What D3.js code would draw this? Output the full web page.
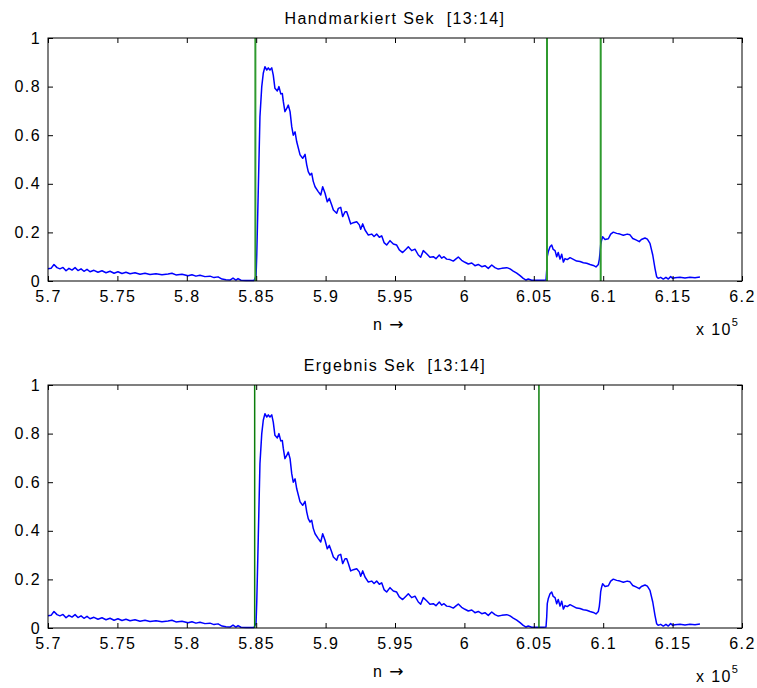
<!DOCTYPE html>
<html>
<head>
<meta charset="utf-8">
<script src="https://cdn.jsdelivr.net/npm/d3@7"></script>
<style>
  body { margin: 0; background: #fff; }
  svg text { font-family: "Liberation Sans", Arial, sans-serif; fill: #000; }
</style>
</head>
<body>
<svg id="chart"></svg>
<script>
// sample position n (x 10^5) and normalised envelope value
const sampleN = [
  5.7000, 5.7022, 5.7043, 5.7065, 5.7086, 5.7108, 5.7130, 5.7151, 5.7173, 5.7195,
  5.7216, 5.7238, 5.7259, 5.7281, 5.7303, 5.7331, 5.7360, 5.7389, 5.7418, 5.7447,
  5.7476, 5.7504, 5.7533, 5.7562, 5.7591, 5.7627, 5.7663, 5.7699, 5.7735, 5.7778,
  5.7821, 5.7865, 5.7893, 5.7922, 5.7965, 5.8009, 5.8037, 5.8066, 5.8095, 5.8131,
  5.8167, 5.8196, 5.8225, 5.8254, 5.8282, 5.8311, 5.8333, 5.8354, 5.8369, 5.8390,
  5.8427, 5.8455, 5.8484, 5.8499, 5.8504, 5.8515, 5.8527, 5.8540, 5.8551, 5.8563,
  5.8576, 5.8587, 5.8599, 5.8612, 5.8623, 5.8635, 5.8652, 5.8664, 5.8677, 5.8688,
  5.8695, 5.8707, 5.8720, 5.8731, 5.8744, 5.8756, 5.8767, 5.8780, 5.8792, 5.8816,
  5.8835, 5.8852, 5.8864, 5.8875, 5.8888, 5.8900, 5.8911, 5.8924, 5.8947, 5.8965,
  5.8979, 5.8996, 5.9012, 5.9027, 5.9044, 5.9056, 5.9080, 5.9092, 5.9109, 5.9123,
  5.9140, 5.9152, 5.9164, 5.9181, 5.9200, 5.9224, 5.9243, 5.9253, 5.9267, 5.9284,
  5.9308, 5.9332, 5.9349, 5.9368, 5.9387, 5.9404, 5.9421, 5.9440, 5.9464, 5.9488,
  5.9512, 5.9531, 5.9555, 5.9579, 5.9596, 5.9620, 5.9644, 5.9668, 5.9685, 5.9704,
  5.9728, 5.9752, 5.9776, 5.9795, 5.9819, 5.9836, 5.9853, 5.9872, 5.9896, 5.9920,
  5.9944, 5.9956, 5.9980, 6.0004, 6.0028, 6.0053, 6.0076, 6.0100, 6.0125, 6.0148,
  6.0172, 6.0197, 6.0220, 6.0244, 6.0269, 6.0305, 6.0329, 6.0352, 6.0377, 6.0401,
  6.0424, 6.0444, 6.0460, 6.0485, 6.0521, 6.0568, 6.0588, 6.0593, 6.0597, 6.0604,
  6.0617, 6.0629, 6.0640, 6.0653, 6.0665, 6.0676, 6.0689, 6.0701, 6.0713, 6.0725,
  6.0741, 6.0761, 6.0785, 6.0809, 6.0833, 6.0857, 6.0881, 6.0905, 6.0929, 6.0948,
  6.0965, 6.0972, 6.0977, 6.0982, 6.0989, 6.0996, 6.1013, 6.1037, 6.1054, 6.1073,
  6.1097, 6.1121, 6.1145, 6.1173, 6.1193, 6.1213, 6.1236, 6.1260, 6.1275, 6.1301,
  6.1318, 6.1337, 6.1357, 6.1373, 6.1385, 6.1396, 6.1414, 6.1433, 6.1452, 6.1469,
  6.1486, 6.1501, 6.1517, 6.1553, 6.1589, 6.1625, 6.1661, 6.1697, 6.1730
];
const envelope = [
  0.050, 0.052, 0.068, 0.055, 0.050, 0.056, 0.042, 0.052, 0.045, 0.055,
  0.043, 0.050, 0.040, 0.048, 0.038, 0.044, 0.036, 0.042, 0.034, 0.040,
  0.032, 0.038, 0.031, 0.036, 0.030, 0.034, 0.028, 0.032, 0.027, 0.030,
  0.026, 0.029, 0.032, 0.025, 0.028, 0.022, 0.026, 0.020, 0.024, 0.018,
  0.020, 0.014, 0.017, 0.008, 0.005, 0.004, 0.012, 0.004, 0.010, 0.003,
  0.002, 0.002, 0.002, 0.020, 0.107, 0.374, 0.676, 0.800, 0.855, 0.882,
  0.868, 0.877, 0.868, 0.877, 0.847, 0.793, 0.782, 0.800, 0.770, 0.772,
  0.740, 0.697, 0.710, 0.724, 0.697, 0.635, 0.600, 0.614, 0.573, 0.519,
  0.505, 0.521, 0.478, 0.450, 0.436, 0.443, 0.410, 0.388, 0.368, 0.354,
  0.388, 0.361, 0.326, 0.340, 0.313, 0.292, 0.279, 0.299, 0.303, 0.265,
  0.285, 0.285, 0.265, 0.235, 0.240, 0.244, 0.231, 0.213, 0.235, 0.210,
  0.189, 0.193, 0.183, 0.193, 0.180, 0.186, 0.158, 0.148, 0.166, 0.152,
  0.148, 0.128, 0.117, 0.131, 0.141, 0.125, 0.131, 0.107, 0.098, 0.125,
  0.112, 0.098, 0.100, 0.092, 0.107, 0.094, 0.100, 0.090, 0.088, 0.082,
  0.093, 0.099, 0.085, 0.077, 0.070, 0.074, 0.063, 0.068, 0.059, 0.063,
  0.052, 0.066, 0.055, 0.049, 0.052, 0.055, 0.050, 0.041, 0.032, 0.022,
  0.011, 0.004, 0.008, 0.003, 0.003, 0.003, 0.004, 0.045, 0.100, 0.120,
  0.141, 0.148, 0.130, 0.125, 0.100, 0.117, 0.090, 0.110, 0.078, 0.092,
  0.088, 0.096, 0.089, 0.082, 0.080, 0.075, 0.073, 0.068, 0.064, 0.058,
  0.068, 0.089, 0.116, 0.150, 0.169, 0.182, 0.171, 0.174, 0.193, 0.201,
  0.196, 0.193, 0.188, 0.193, 0.190, 0.175, 0.169, 0.162, 0.171, 0.177,
  0.172, 0.155, 0.107, 0.052, 0.018, 0.011, 0.015, 0.008, 0.015, 0.008,
  0.018, 0.011, 0.013, 0.015, 0.012, 0.015, 0.013, 0.016
];

// segment boundaries
const handMarks = [5.8494, 6.0595, 6.0982];
const resultMarks = [5.8489, 6.0537];

const xTicks = [5.7, 5.75, 5.8, 5.85, 5.9, 5.95, 6, 6.05, 6.1, 6.15, 6.2];
const yTicks = [0, 0.2, 0.4, 0.6, 0.8, 1];

const width = 757, height = 688;
const left = 48, right = 742, plotH = 243;

const panels = [
    { top: 38, title: "Handmarkiert Sek  [13:14]", marks: handMarks, green: "#2f9a2f", gw: 2 },
    { top: 385, title: "Ergebnis Sek  [13:14]", marks: resultMarks, green: "#0b7d0b", gw: 1.5 }
];

const svg = d3.select("#chart")
    .attr("width", width)
    .attr("height", height);

const x = d3.scaleLinear().domain([5.7, 6.2]).range([left, right]);
const series = d3.zip(sampleN, envelope);

panels.forEach(p => {
    const y = d3.scaleLinear().domain([0, 1]).range([p.top + plotH, p.top]);
    const g = svg.append("g");

    // blue envelope
    g.append("path")
        .datum(series)
        .attr("fill", "none")
        .attr("stroke", "#0000ff")
        .attr("stroke-width", 1.5)
        .attr("stroke-linejoin", "round")
        .attr("d", d3.line().x(d => x(d[0])).y(d => y(d[1])));

    // green boundary lines
    g.selectAll("line.mark")
        .data(p.marks)
        .enter()
        .append("line")
        .attr("class", "mark")
        .attr("x1", d => x(d)).attr("x2", d => x(d))
        .attr("y1", y(0)).attr("y2", y(1))
        .attr("stroke", p.green)
        .attr("stroke-width", p.gw);

    // axes, ticks point inwards like matlab
    const bottom = g.append("g")
        .attr("transform", `translate(0,${y(0)})`)
        .call(d3.axisBottom(x).tickValues(xTicks).tickFormat(d => String(d))
            .tickSizeInner(-5).tickSizeOuter(0).tickPadding(10));
    g.append("g")
        .attr("transform", `translate(0,${y(1)})`)
        .call(d3.axisTop(x).tickValues(xTicks).tickFormat("")
            .tickSizeInner(-5).tickSizeOuter(0));
    const leftAx = g.append("g")
        .attr("transform", `translate(${left},0)`)
        .call(d3.axisLeft(y).tickValues(yTicks).tickFormat(d => String(d))
            .tickSizeInner(-5).tickSizeOuter(0).tickPadding(7));
    g.append("g")
        .attr("transform", `translate(${right},0)`)
        .call(d3.axisRight(y).tickValues(yTicks).tickFormat("")
            .tickSizeInner(-5).tickSizeOuter(0));

    g.selectAll(".domain").remove();
    g.selectAll(".tick line").attr("stroke", "#000");
    [bottom, leftAx].forEach(a => a.selectAll("text")
        .style("font-size", "16px")
        .style("letter-spacing", "1.4px")
        .attr("fill", "#000"));

    // box
    g.append("rect")
        .attr("x", left).attr("y", p.top)
        .attr("width", right - left).attr("height", plotH)
        .attr("fill", "none")
        .attr("stroke", "#000")
        .attr("stroke-width", 1);

    // title
    g.append("text")
        .attr("x", (left + right) / 2)
        .attr("y", p.top - 14)
        .attr("text-anchor", "middle")
        .style("font-size", "16px")
        .style("letter-spacing", "1.4px")
        .style("white-space", "pre")
        .text(p.title);

    // x label, arrow from DejaVu which has a longer glyph
    const xl = g.append("text")
        .attr("x", 373)
        .attr("y", y(0) + 49)
        .style("font-size", "16px")
        .style("letter-spacing", "1.4px");
    xl.append("tspan").text("n ");
    xl.append("tspan")
        .style("font-family", "'DejaVu Sans'")
        .style("font-size", "17px")
        .text("\u2192");

    // exponent
    const ex = g.append("text")
        .attr("x", 696)
        .attr("y", y(0) + 54)
        .style("font-size", "16px")
        .style("letter-spacing", "1.4px");
    ex.append("tspan").text("x 10");
    ex.append("tspan")
        .attr("dy", -9)
        .style("font-size", "11px")
        .text("5");
});
</script>
</body>
</html>
